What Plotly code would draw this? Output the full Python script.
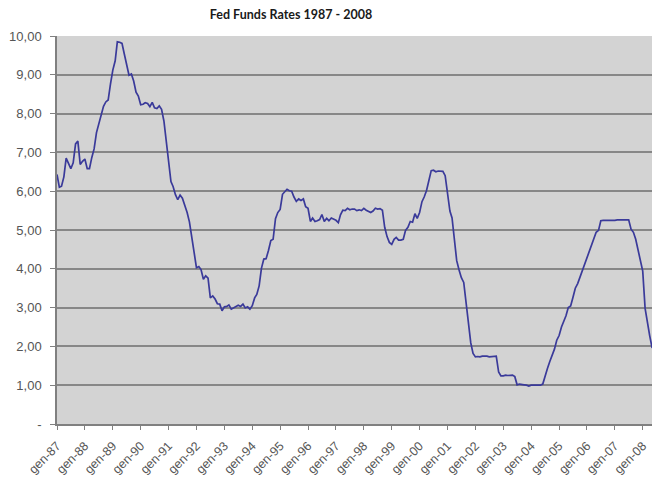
import plotly.graph_objects as go
import pandas as pd

# Monthly effective Fed Funds rate, Jan 1987 - Aug 2008
rates_1987 = [6.43, 6.10, 6.13, 6.37, 6.85, 6.73, 6.58, 6.73, 7.22, 7.29, 6.69, 6.77]
rates_1988 = [6.83, 6.58, 6.58, 6.87, 7.09, 7.51, 7.75, 8.01, 8.19, 8.30, 8.35, 8.76]
rates_1989 = [9.12, 9.36, 9.85, 9.84, 9.81, 9.53, 9.24, 8.99, 9.02, 8.84, 8.55, 8.45]
rates_1990 = [8.23, 8.24, 8.28, 8.26, 8.18, 8.29, 8.15, 8.13, 8.20, 8.11, 7.81, 7.31]
rates_1991 = [6.91, 6.25, 6.12, 5.91, 5.78, 5.90, 5.82, 5.66, 5.45, 5.21, 4.81, 4.43]
rates_1992 = [4.03, 4.06, 3.98, 3.73, 3.82, 3.76, 3.25, 3.30, 3.22, 3.10, 3.09, 2.92]
rates_1993 = [3.02, 3.03, 3.07, 2.96, 3.00, 3.04, 3.06, 3.03, 3.09, 2.99, 3.02, 2.96]
rates_1994 = [3.05, 3.25, 3.34, 3.56, 4.01, 4.25, 4.26, 4.47, 4.73, 4.76, 5.29, 5.45]
rates_1995 = [5.53, 5.92, 5.98, 6.05, 6.01, 6.00, 5.85, 5.74, 5.80, 5.76, 5.80, 5.60]
rates_1996 = [5.56, 5.22, 5.31, 5.22, 5.24, 5.27, 5.40, 5.22, 5.30, 5.24, 5.31, 5.29]
rates_1997 = [5.25, 5.19, 5.39, 5.51, 5.50, 5.56, 5.52, 5.54, 5.54, 5.50, 5.52, 5.50]
rates_1998 = [5.56, 5.51, 5.49, 5.45, 5.49, 5.56, 5.54, 5.55, 5.51, 5.07, 4.83, 4.68]
rates_1999 = [4.63, 4.76, 4.81, 4.74, 4.74, 4.76, 4.99, 5.07, 5.22, 5.20, 5.42, 5.30]
rates_2000 = [5.45, 5.73, 5.85, 6.02, 6.27, 6.53, 6.54, 6.50, 6.52, 6.51, 6.51, 6.40]
rates_2001 = [5.98, 5.49, 5.31, 4.80, 4.21, 3.97, 3.77, 3.65, 3.07, 2.49, 2.09, 1.82]
rates_2002 = [1.73, 1.74, 1.73, 1.75, 1.75, 1.75, 1.73, 1.74, 1.75, 1.75, 1.34, 1.24]
rates_2003 = [1.24, 1.26, 1.25, 1.26, 1.26, 1.22, 1.01, 1.03, 1.01, 1.01, 1.00, 0.98]
rates_2004 = [1.00, 1.01, 1.00, 1.00, 1.00, 1.03, 1.26, 1.43, 1.61, 1.76, 1.93, 2.16]
rates_2005 = [2.28, 2.50, 2.63, 2.79, 3.00, 3.04, 3.26, 3.50, 3.62, 3.78, 4.00, 4.16]
rates_2006 = [4.29, 4.49, 4.59, 4.79, 4.94, 4.99, 5.24, 5.25, 5.25, 5.25, 5.25, 5.24]
rates_2007 = [5.25, 5.26, 5.26, 5.25, 5.25, 5.25, 5.26, 5.02, 4.94, 4.76, 4.49, 4.24]
rates_2008 = [3.94, 2.98, 2.61, 2.28, 1.98, 2.00, 2.01, 2.00]

rates = (rates_1987 + rates_1988 + rates_1989 + rates_1990 + rates_1991 + rates_1992 +
         rates_1993 + rates_1994 + rates_1995 + rates_1996 + rates_1997 + rates_1998 +
         rates_1999 + rates_2000 + rates_2001 + rates_2002 + rates_2003 + rates_2004 +
         rates_2005 + rates_2006 + rates_2007 + rates_2008)
months = pd.date_range("1987-01-01", periods=len(rates), freq="MS")

x_tick_dates = [f"{y}-01-01" for y in range(1987, 2009)]
x_tick_labels = ["gen-87", "gen-88", "gen-89", "gen-90", "gen-91", "gen-92", "gen-93",
                 "gen-94", "gen-95", "gen-96", "gen-97", "gen-98", "gen-99", "gen-00",
                 "gen-01", "gen-02", "gen-03", "gen-04", "gen-05", "gen-06", "gen-07",
                 "gen-08"]
y_tick_values = [0, 1, 2, 3, 4, 5, 6, 7, 8, 9, 10]
y_tick_labels = ["-", "1,00", "2,00", "3,00", "4,00", "5,00", "6,00", "7,00", "8,00",
                 "9,00", "10,00"]

# The page body has an 8px margin, so the figure is sized/offset to compensate.
fig = go.Figure()
fig.add_trace(go.Scatter(
    x=months, y=rates, mode="lines",
    line=dict(color="#3a3a9a", width=1.7),
    hoverinfo="x+y",
))

fig.update_layout(
    width=652, height=473,
    margin=dict(l=49, r=1, t=28, b=57, autoexpand=False),
    paper_bgcolor="white",
    plot_bgcolor="#d3d3d3",
    showlegend=False,
    title=dict(
        text="<b>Fed Funds Rates 1987 - 2008</b>",
        x=283 / 652, xanchor="center",
        y=1 - 7 / 473, yanchor="middle",
        font=dict(family="Lato, Liberation Sans, sans-serif", size=12.5, color="#1a1a1a"),
    ),
    font=dict(family="Liberation Sans, Arial, sans-serif", size=12, color="#555555"),
)

fig.update_xaxes(
    type="date",
    range=["1987-01-01", "2008-08-01"],
    tickmode="array", tickvals=x_tick_dates, ticktext=x_tick_labels,
    tickangle=-45,
    ticks="outside", ticklen=4, tickcolor="#808080", tickwidth=1,
    ticklabelstandoff=4,
    showgrid=False,
    showline=True, linecolor="#808080", linewidth=1.5,
    zeroline=False,
    automargin=False,
    tickfont=dict(size=12.5, color="#555555"),
)

fig.update_yaxes(
    range=[0, 10],
    tickmode="array", tickvals=y_tick_values, ticktext=y_tick_labels,
    ticks="outside", ticklen=5, tickcolor="#808080", tickwidth=1,
    ticklabelstandoff=6,
    showgrid=True, gridcolor="#878787", gridwidth=1.6,
    showline=True, linecolor="#808080", linewidth=1.5,
    zeroline=False,
    automargin=False,
    tickfont=dict(size=13, color="#555555"),
)

fig.write_html("out.html")
